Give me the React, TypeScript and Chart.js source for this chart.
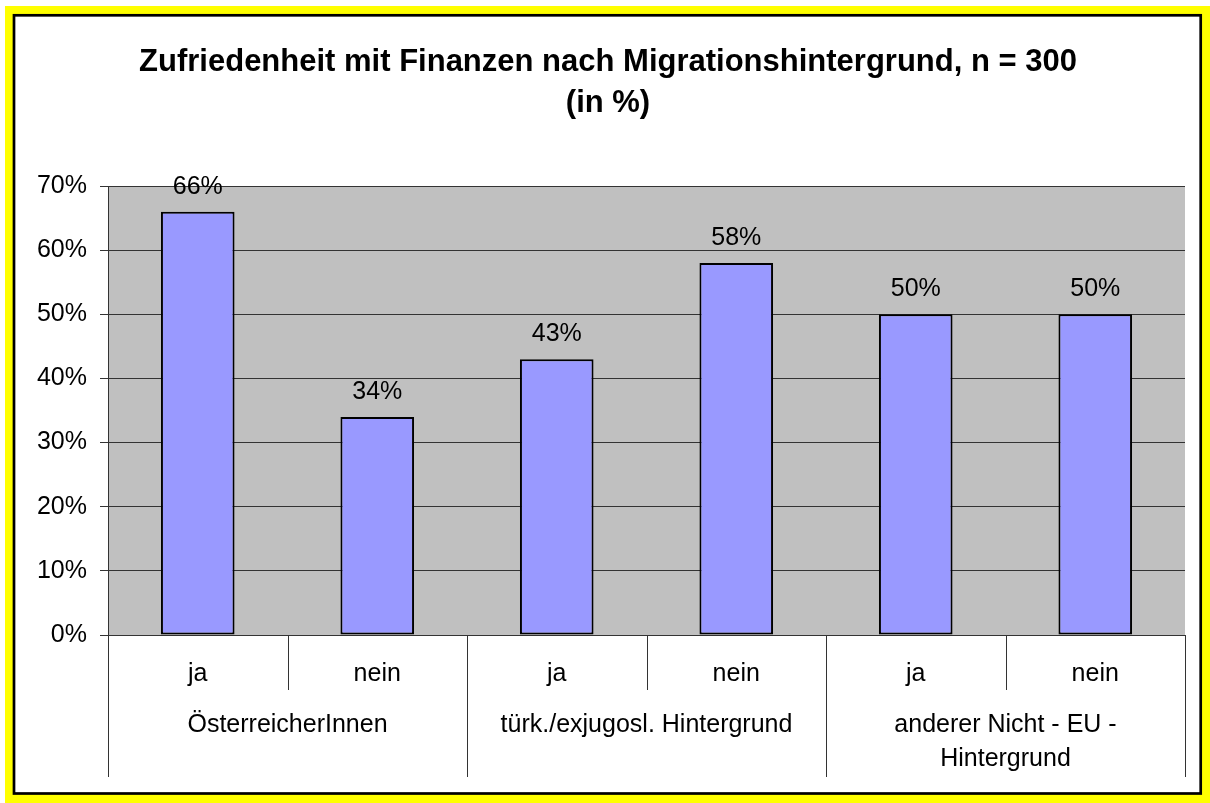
import React, { useEffect, useRef } from "react";
import { Chart, registerables } from "chart.js";

Chart.register(...registerables);

const categories: string[] = ["ja", "nein", "ja", "nein", "ja", "nein"];
const values: number[] = [66, 34, 43, 58, 50, 50];
const groupLabels: (string | string[])[] = [
  "ÖsterreicherInnen",
  "türk./exjugosl. Hintergrund",
  ["anderer Nicht - EU -", "Hintergrund"],
];
const groupSizes: number[] = [2, 2, 2];
const titleLines: string[] = [
  "Zufriedenheit mit Finanzen nach Migrationshintergrund, n = 300",
  "(in %)",
];
const yTicks: number[] = [0, 10, 20, 30, 40, 50, 60, 70];

const W = 1210;
const H = 803;
const FONT = "'Liberation Sans', Arial, Helvetica, sans-serif";

const framePlugin = {
  id: "frame",
  beforeDraw(chart: any) {
    const ctx = chart.ctx;
    const a = chart.chartArea;
    ctx.save();
    ctx.fillStyle = "#ffffff";
    ctx.fillRect(0, 0, W, H);
    ctx.fillStyle = "#FFFF00";
    ctx.fillRect(5, 6, W - 5, H - 6);
    ctx.fillStyle = "#ffffff";
    ctx.fillRect(14, 15, 1187, 779);
    ctx.strokeStyle = "#000000";
    ctx.lineWidth = 2.7;
    ctx.strokeRect(14, 15.3, 1186.7, 778.2);
    ctx.fillStyle = "#C0C0C0";
    ctx.fillRect(a.left, a.top, a.right - a.left, a.bottom - a.top);
    ctx.restore();
  },
  afterDatasetsDraw(chart: any) {
    const ctx = chart.ctx;
    const meta = chart.getDatasetMeta(0);
    ctx.save();
    ctx.font = `25px ${FONT}`;
    ctx.fillStyle = "#000";
    ctx.textAlign = "center";
    ctx.textBaseline = "middle";
    meta.data.forEach((el: any, i: number) => {
      ctx.fillText(values[i] + "%", el.x, el.y - 25);
    });
    ctx.restore();
  },
  afterDraw(chart: any) {
    const ctx = chart.ctx;
    const a = chart.chartArea;
    const xs = chart.scales.x;
    const n = categories.length;
    const bounds: number[] = [a.left];
    for (let i = 1; i < n; i++) {
      bounds.push((xs.getPixelForValue(i - 1) + xs.getPixelForValue(i)) / 2);
    }
    bounds.push(a.right);
    ctx.save();
    ctx.strokeStyle = "#333333";
    ctx.lineWidth = 1;
    const groupBounds = new Set<number>();
    let acc = 0;
    groupBounds.add(0);
    groupSizes.forEach((s) => {
      acc += s;
      groupBounds.add(acc);
    });
    bounds.forEach((bx, i) => {
      const x = Math.round(bx) + 0.5;
      const bottom = groupBounds.has(i) ? 777 : 690;
      ctx.beginPath();
      ctx.moveTo(x, a.bottom);
      ctx.lineTo(x, bottom);
      ctx.stroke();
    });
    ctx.font = `25px ${FONT}`;
    ctx.fillStyle = "#000";
    ctx.textAlign = "center";
    ctx.textBaseline = "middle";
    let start = 0;
    groupLabels.forEach((lab, g) => {
      const end = start + groupSizes[g];
      const cx = (bounds[start] + bounds[end]) / 2;
      const lines = Array.isArray(lab) ? lab : [lab];
      lines.forEach((ln, k) => {
        ctx.fillText(ln, cx, 725 + k * 34);
      });
      start = end;
    });
    ctx.restore();
  },
};

export default function App() {
  const ref = useRef<HTMLCanvasElement | null>(null);
  useEffect(() => {
    if (!ref.current) return;
    const chart = new Chart(ref.current, {
      type: "bar",
      data: {
        labels: categories,
        datasets: [
          {
            data: values,
            backgroundColor: "#9999FF",
            borderColor: "#000000",
            borderWidth: 2,
            borderSkipped: false,
            barPercentage: 0.41,
            categoryPercentage: 1,
          },
        ],
      },
      options: {
        animation: false,
        responsive: false,
        devicePixelRatio: 1,
        layout: { padding: { left: 31, right: 25, top: 0, bottom: 0 } },
        plugins: {
          legend: { display: false },
          tooltip: { enabled: false },
          title: {
            display: true,
            text: titleLines,
            color: "#000",
            font: { family: FONT, size: 31, weight: "bold", lineHeight: 41 / 31 },
            padding: { top: 42, bottom: 62 },
          },
        },
        scales: {
          x: {
            type: "category",
            offset: true,
            grid: { display: false, drawTicks: false },
            border: { display: false },
            ticks: {
              color: "#000",
              font: { family: FONT, size: 25 },
              padding: 24,
              maxRotation: 0,
              autoSkip: false,
            },
            afterFit(scale: any) {
              scale.height = 168;
            },
          },
          y: {
            min: 0,
            max: 70,
            afterBuildTicks(scale: any) {
              scale.ticks = yTicks.map((v) => ({ value: v }));
            },
            grid: { color: "#333333", lineWidth: 1, tickLength: 8, drawTicks: true },
            border: { display: true, color: "#333333", width: 1 },
            ticks: {
              color: "#000",
              font: { family: FONT, size: 25 },
              padding: 13,
              callback: (v: any) => v + "%",
            },
            afterFit(scale: any) {
              scale.width = 77;
            },
          },
        },
      },
      plugins: [framePlugin],
    });
    return () => chart.destroy();
  }, []);
  return (
    <div style={{ position: "absolute", left: 0, top: 0, width: W, height: H }}>
      <canvas ref={ref} width={W} height={H} style={{ width: W, height: H, display: "block" }} />
    </div>
  );
}
